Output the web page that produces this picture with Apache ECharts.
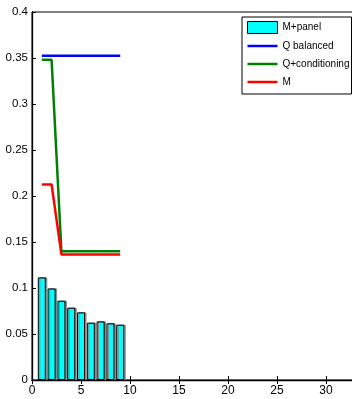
<!DOCTYPE html>
<html>
<head>
<meta charset="utf-8">
<script src="https://cdn.jsdelivr.net/npm/echarts@6/dist/echarts.min.js"></script>
<style>
  html, body { margin: 0; padding: 0; background: #fff; }
  #chart { width: 352px; height: 399px; }
</style>
</head>
<body>
<div id="chart"></div>
<script>
// Iteration index along the horizontal axis
var steps = [1, 2, 3, 4, 5, 6, 7, 8, 9];

// Series values per step
var mPanel = [0.1115, 0.0995, 0.0862, 0.0786, 0.0735, 0.0623, 0.0637, 0.0616, 0.0601];
var qBalanced = [0.3525, 0.3525, 0.3525, 0.3525, 0.3525, 0.3525, 0.3525, 0.3525, 0.3525];
var qConditioning = [0.348, 0.348, 0.140, 0.140, 0.140, 0.140, 0.140, 0.140, 0.140];
var mOnly = [0.2125, 0.2125, 0.1365, 0.1365, 0.1365, 0.1365, 0.1365, 0.1365, 0.1365];

var seriesNames = ['M+panel', 'Q balanced', 'Q+conditioning', 'M'];

// Axis ranges and tick steps
var xRange = [0, 35], xStep = 5;
var yRange = [0, 0.4], yStep = 0.05;

function pairs(vals) {
  return steps.map(function (s, i) { return [s, vals[i]]; });
}

var FONT = "'Liberation Sans', Arial, sans-serif";
// Legend key for line series: a thin centred stroke inside a 30x12 box
var LINE_KEY = 'path://M0,0L0,0M0,4.75H30V7.25H0ZM30,12L30,12';

var chart = echarts.init(document.getElementById('chart'), null, { renderer: 'canvas' });

chart.setOption({
  animation: false,
  backgroundColor: '#ffffff',
  grid: {
    left: 32, top: 12, width: 343, height: 368,
    containLabel: false, outerBoundsMode: 'none',
    show: true, borderColor: '#000', borderWidth: 1, backgroundColor: 'transparent'
  },
  xAxis: [{
    type: 'value', min: xRange[0], max: xRange[1], interval: xStep,
    axisLine: { show: true, onZero: false, lineStyle: { color: '#000', width: 1.3 } },
    axisTick: { show: true, inside: true, length: 4, lineStyle: { color: '#000' } },
    axisLabel: { color: '#000', fontFamily: FONT, fontSize: 12, margin: 5, hideOverlap: false },
    splitLine: { show: false }
  }, {
    type: 'value', position: 'top', min: xRange[0], max: xRange[1], interval: xStep,
    axisLine: { show: true, lineStyle: { color: '#000' } },
    axisTick: { show: true, inside: true, length: 4, lineStyle: { color: '#000' } },
    axisLabel: { show: false },
    splitLine: { show: false }
  }],
  yAxis: {
    type: 'value', min: yRange[0], max: yRange[1], interval: yStep,
    axisLine: { show: true, lineStyle: { color: '#000', width: 1.3 } },
    axisTick: { show: true, inside: true, length: 4, lineStyle: { color: '#000' } },
    axisLabel: {
      color: '#000', fontFamily: FONT, fontSize: 11.5, margin: 4,
      formatter: function (v) { return String(Math.round(v * 100) / 100); }
    },
    splitLine: { show: false }
  },
  legend: {
    orient: 'vertical',
    left: 242, top: 17,
    backgroundColor: '#fff',
    borderColor: '#000', borderWidth: 1, borderRadius: 0,
    padding: [4, 2, 6, 5],
    itemWidth: 30, itemHeight: 12, itemGap: 6,
    textStyle: { color: '#000', fontFamily: FONT, fontSize: 10 },
    data: [
      { name: seriesNames[0], icon: 'rect',
        itemStyle: { borderWidth: 1, borderColor: '#000', shadowColor: 'transparent', shadowOffsetX: 0 } },
      { name: seriesNames[1], icon: LINE_KEY },
      { name: seriesNames[2], icon: LINE_KEY },
      { name: seriesNames[3], icon: LINE_KEY }
    ]
  },
  series: [{
    name: seriesNames[0], type: 'bar', barWidth: 8,
    data: pairs(mPanel),
    itemStyle: {
      color: '#00ffff', borderColor: '#000', borderWidth: 1,
      shadowColor: '#888', shadowOffsetX: 1.5, shadowBlur: 0
    }
  }, {
    name: seriesNames[1], type: 'line', symbol: 'none',
    data: pairs(qBalanced),
    lineStyle: { color: '#0000ff', width: 2.5 }, itemStyle: { color: '#0000ff' }
  }, {
    name: seriesNames[2], type: 'line', symbol: 'none',
    data: pairs(qConditioning),
    lineStyle: { color: '#008000', width: 2.5 }, itemStyle: { color: '#008000' }
  }, {
    name: seriesNames[3], type: 'line', symbol: 'none',
    data: pairs(mOnly),
    lineStyle: { color: '#ff0000', width: 2.5 }, itemStyle: { color: '#ff0000' }
  }]
});
</script>
</body>
</html>
